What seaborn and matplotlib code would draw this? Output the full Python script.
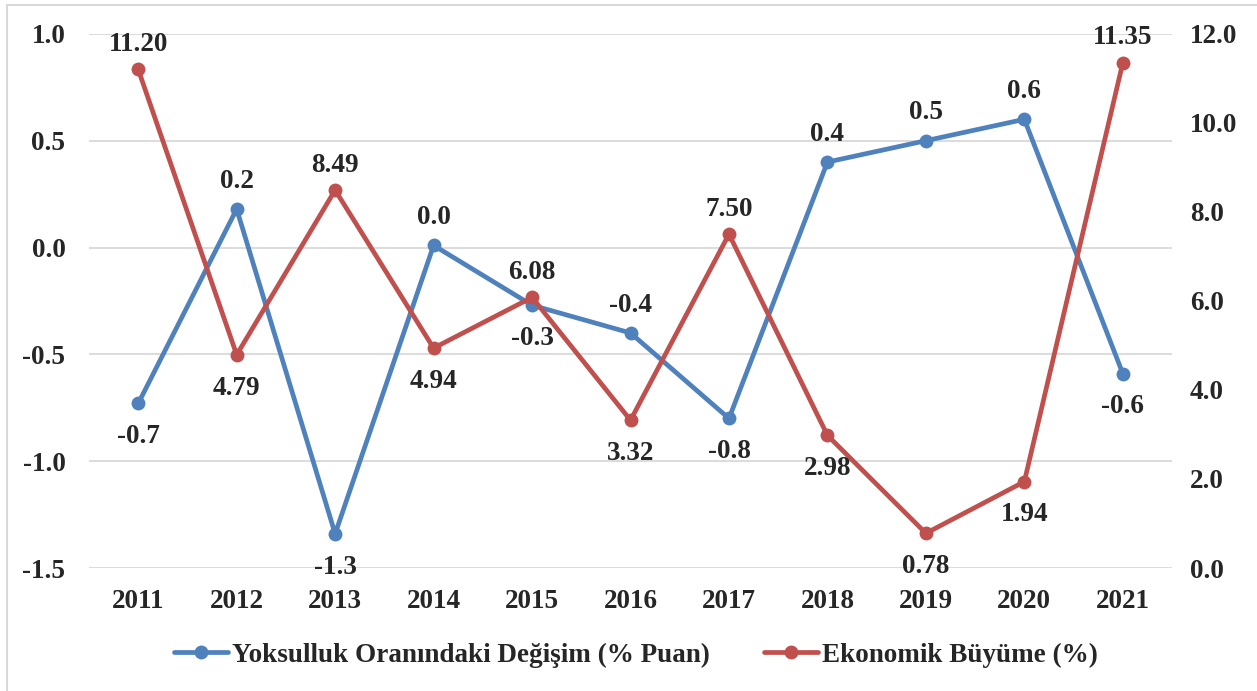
import matplotlib
matplotlib.use("Agg")
import matplotlib.pyplot as plt
from matplotlib.patches import Rectangle
from matplotlib.ticker import FormatStrFormatter
import seaborn as sns
import pandas as pd

years = ['2011', '2012', '2013', '2014', '2015', '2016', '2017', '2018', '2019', '2020', '2021']
poverty_change = [-0.73, 0.18, -1.34, 0.01, -0.27, -0.40, -0.80, 0.40, 0.50, 0.60, -0.59]
growth = [11.20, 4.79, 8.49, 4.94, 6.08, 3.32, 7.50, 2.98, 0.78, 1.94, 11.35]
poverty_label_up = [False, True, False, True, False, True, False, True, True, True, False]
growth_label_up = [True, False, True, False, True, False, True, False, False, False, True]

name_poverty = 'Yoksulluk Oranındaki Değişim (% Puan)'
name_growth = 'Ekonomik Büyüme (%)'

blue = '#4F81BD'
red = '#C0504D'
fs = 19.5

sns.set_theme(style='white')
plt.rcParams['font.family'] = ['Liberation Serif', 'DejaVu Serif']
plt.rcParams['font.weight'] = 'bold'

df = pd.DataFrame({'year': years, 'pov': poverty_change, 'gro': growth})

fig = plt.figure(figsize=(12.57, 6.91), dpi=100)
ax = fig.add_axes([0.0708, 0.178, 0.8616, 0.773])
ax2 = ax.twinx()

sns.lineplot(data=df, x='year', y='pov', ax=ax, color=blue, marker='o',
             markersize=10, linewidth=3.4, markeredgewidth=0, label=name_poverty,
             legend=False, sort=False)
sns.lineplot(data=df, x='year', y='gro', ax=ax2, color=red, marker='o',
             markersize=10, linewidth=3.4, markeredgewidth=0, label=name_growth,
             legend=False, sort=False)

ax.set_xlim(-0.5, len(years) - 0.5)
ax.set_ylim(-1.5, 1.0)
ax.set_yticks([-1.5, -1.0, -0.5, 0.0, 0.5, 1.0])
ax.yaxis.set_major_formatter(FormatStrFormatter('%.1f'))
ax2.set_ylim(0, 12)
ax2.set_yticks([0, 2, 4, 6, 8, 10, 12])
ax2.yaxis.set_major_formatter(FormatStrFormatter('%.1f'))

ax.grid(axis='y', color='#D9D9D9', linewidth=1.3)
ax.set_axisbelow(True)
for a in (ax, ax2):
    for s in a.spines.values():
        s.set_visible(False)
    a.set_xlabel('')
    a.set_ylabel('')
ax.tick_params(axis='y', length=0, pad=17, labelsize=fs)
ax.tick_params(axis='x', length=0, pad=15, labelsize=fs)
ax2.tick_params(axis='y', length=0, pad=13, labelsize=fs)
for lab in ax.get_xticklabels() + ax.get_yticklabels() + ax2.get_yticklabels():
    lab.set_fontweight('bold')

for i, v in enumerate(poverty_change):
    off = 20 if poverty_label_up[i] else -24
    ax.annotate(f'{v:.1f}', (i, v), xytext=(0, off), textcoords='offset points',
                ha='center', va='center', fontsize=fs, fontweight='bold')
for i, v in enumerate(growth):
    off = 18 if growth_label_up[i] else -24
    ax2.annotate(f'{v:.2f}', (i, v), xytext=(0, off), textcoords='offset points',
                 ha='center', va='center', fontsize=fs, fontweight='bold')

h1, l1 = ax.get_legend_handles_labels()
h2, l2 = ax2.get_legend_handles_labels()
fig.legend(h1 + h2, l1 + l2, loc='center', bbox_to_anchor=(0.506, 0.052), ncol=2,
           frameon=False, prop={'size': fs, 'weight': 'bold'}, handlelength=2.0,
           handletextpad=0.15, columnspacing=2.0)

fig.patches.append(Rectangle((0.0056, -0.1), 1.2, 1.0928, transform=fig.transFigure,
                             fill=False, edgecolor='#D9D9D9', linewidth=1.5))

fig.savefig('out.png', dpi=100)
